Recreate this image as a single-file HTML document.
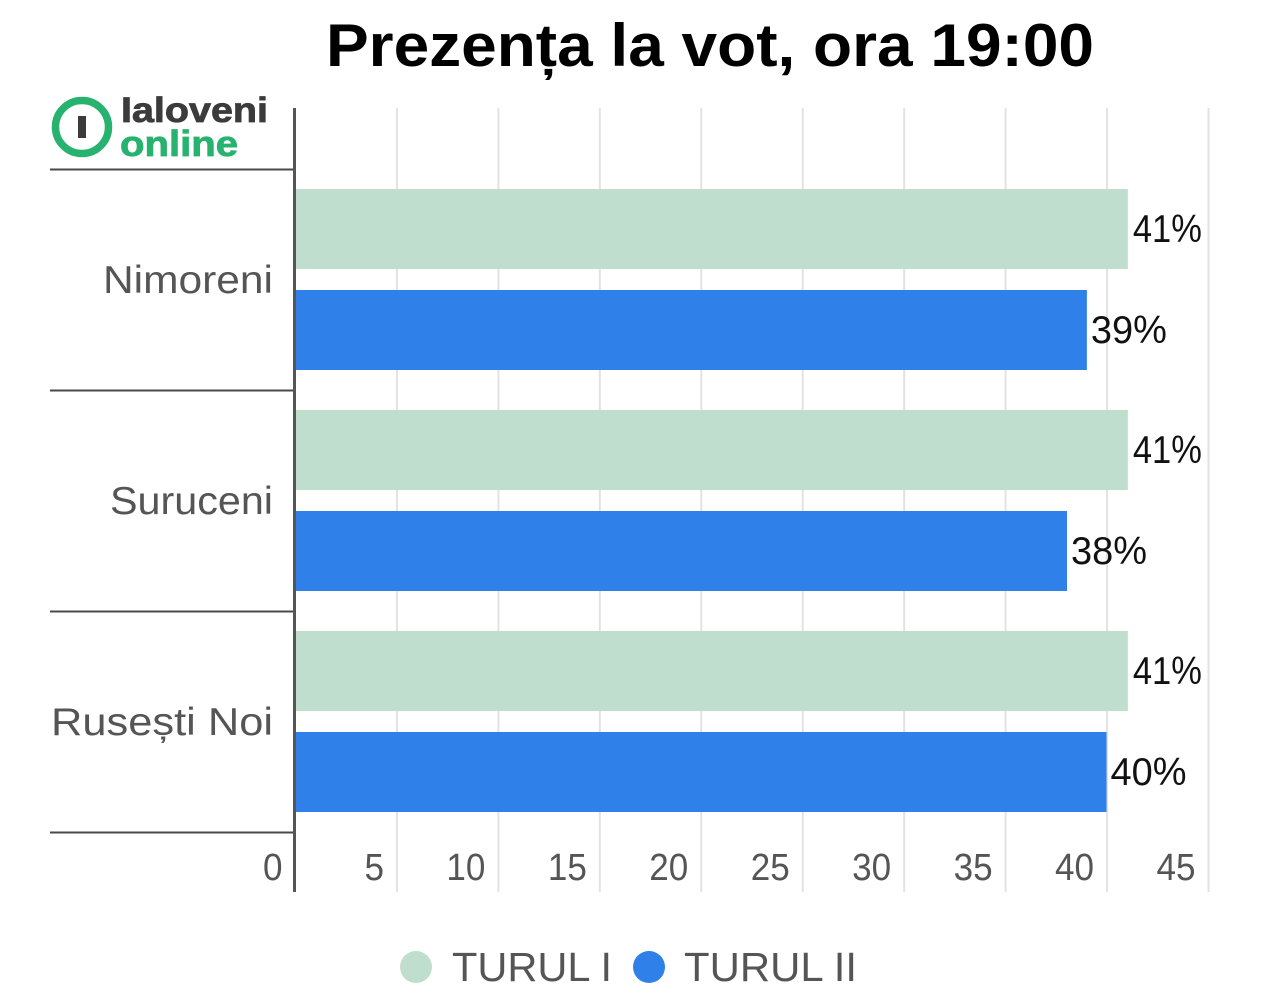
<!DOCTYPE html>
<html lang="ro">
<head>
<meta charset="utf-8">
<title>Prezența la vot, ora 19:00</title>
<style>
html,body{margin:0;padding:0;background:#fff;}
svg{display:block;font-family:"Liberation Sans","DejaVu Sans",sans-serif;}
</style>
</head>
<body>
<svg id="chart" width="1268" height="1000" viewBox="0 0 1268 1000" xmlns="http://www.w3.org/2000/svg">
  <rect width="1268" height="1000" fill="#ffffff"/>
  <text x="326" y="66" font-size="60" font-weight="700" fill="#000" textLength="768" lengthAdjust="spacingAndGlyphs">Prezența la vot, ora 19:00</text>
  <g id="plot"></g>
  <g>
    <circle cx="82" cy="127" r="26.5" fill="none" stroke="#27b36f" stroke-width="7.5"/>
    <rect x="78" y="116" width="8" height="22" fill="#3b3b3b"/>
    <text x="121" y="122" font-size="35" font-weight="700" fill="#3b3b3b" stroke="#3b3b3b" stroke-width="0.8" textLength="147" lengthAdjust="spacingAndGlyphs">Ialoveni</text>
    <text x="120" y="156" font-size="36" font-weight="700" fill="#27b36f" stroke="#27b36f" stroke-width="0.8" textLength="118" lengthAdjust="spacingAndGlyphs">online</text>
  </g>
  <g>
    <g>
      <circle cx="416" cy="967" r="16" fill="#c0dece"/>
      <text x="452" y="981" font-size="41" fill="#555" textLength="160" lengthAdjust="spacingAndGlyphs">TURUL I</text>
    </g>
    <g>
      <circle cx="649" cy="967" r="16" fill="#2f80e8"/>
      <text x="684" y="981" font-size="41" fill="#555" textLength="173" lengthAdjust="spacingAndGlyphs">TURUL II</text>
    </g>
  </g>
</svg>
<script>
const categories = ['Nimoreni', 'Suruceni', 'Rusești Noi'];
const turul1Values = [41.05, 41.05, 41.05];
const turul2Values = [39.03, 38.05, 40];
const turul1Labels = ['41%', '41%', '41%'];
const turul2Labels = ['39%', '38%', '40%'];
const xTickValues = [0, 5, 10, 15, 20, 25, 30, 35, 40, 45];

const svgNS = 'http://www.w3.org/2000/svg';
const plot = document.getElementById('plot');
const AXIS_MAX = 45;
const X0 = 295, X1 = 1208;
const BAND_TOP = 170, BAND_HEIGHT = 221;
const GRID_TOP = 108, GRID_BOTTOM = 892;
const BAR_HEIGHT = 80;

function xScale(v) { return X0 + (v / AXIS_MAX) * (X1 - X0); }
function bandY(i) { return BAND_TOP + i * BAND_HEIGHT; }

function make(tag, attrs, text) {
  const el = document.createElementNS(svgNS, tag);
  for (const k in attrs) el.setAttribute(k, attrs[k]);
  if (text !== undefined) el.textContent = text;
  plot.appendChild(el);
  return el;
}

xTickValues.forEach(function (t) {
  if (t === 0) return;
  const grid = make('line', {x1: xScale(t) + 0.5, x2: xScale(t) + 0.5, y1: GRID_TOP, y2: GRID_BOTTOM, stroke: '#e2e2e2', 'stroke-width': 2});
  
  
});

categories.forEach(function (name, i) {
  const top = bandY(i);
  const a = make('rect', {x: X0, y: top + 19, width: xScale(turul1Values[i]) - X0, height: BAR_HEIGHT, fill: '#c0dece'});
  
  
  const b = make('rect', {x: X0, y: top + 120, width: xScale(turul2Values[i]) - X0, height: BAR_HEIGHT, fill: '#2f80e8'});
  
  
  const la = make('text', {x: xScale(turul1Values[i]) + 5, y: top + 72, 'font-size': 39, fill: '#111', textLength: 69, lengthAdjust: 'spacingAndGlyphs'}, turul1Labels[i]);
  
  
  const lb = make('text', {x: xScale(turul2Values[i]) + 4, y: top + 173, 'font-size': 39, fill: '#111', textLength: 76, lengthAdjust: 'spacingAndGlyphs'}, turul2Labels[i]);
  
  
  const widths = [170, 163, 222];
  const c = make('text', {x: 273, y: top + 123, 'font-size': 39, fill: '#555', 'text-anchor': 'end', textLength: widths[i], lengthAdjust: 'spacingAndGlyphs'}, name);
  
  
});

for (let i = 0; i <= categories.length; i++) {
  const sep = make('line', {x1: 50, x2: X0, y1: bandY(i) - 0.5, y2: bandY(i) - 0.5, stroke: '#4a4a4a', 'stroke-width': 2});
  
  
}

const axis = make('line', {x1: X0 - 0.5, x2: X0 - 0.5, y1: GRID_TOP, y2: GRID_BOTTOM, stroke: '#555', 'stroke-width': 3});



xTickValues.forEach(function (t) {
  const text = String(t);
  const label = make('text', {x: xScale(t) - 12.5, y: 880, 'font-size': 38, fill: '#555', 'text-anchor': 'end', textLength: text.length * 19.5, lengthAdjust: 'spacingAndGlyphs'}, text);
  
  
});
</script>
</body>
</html>
